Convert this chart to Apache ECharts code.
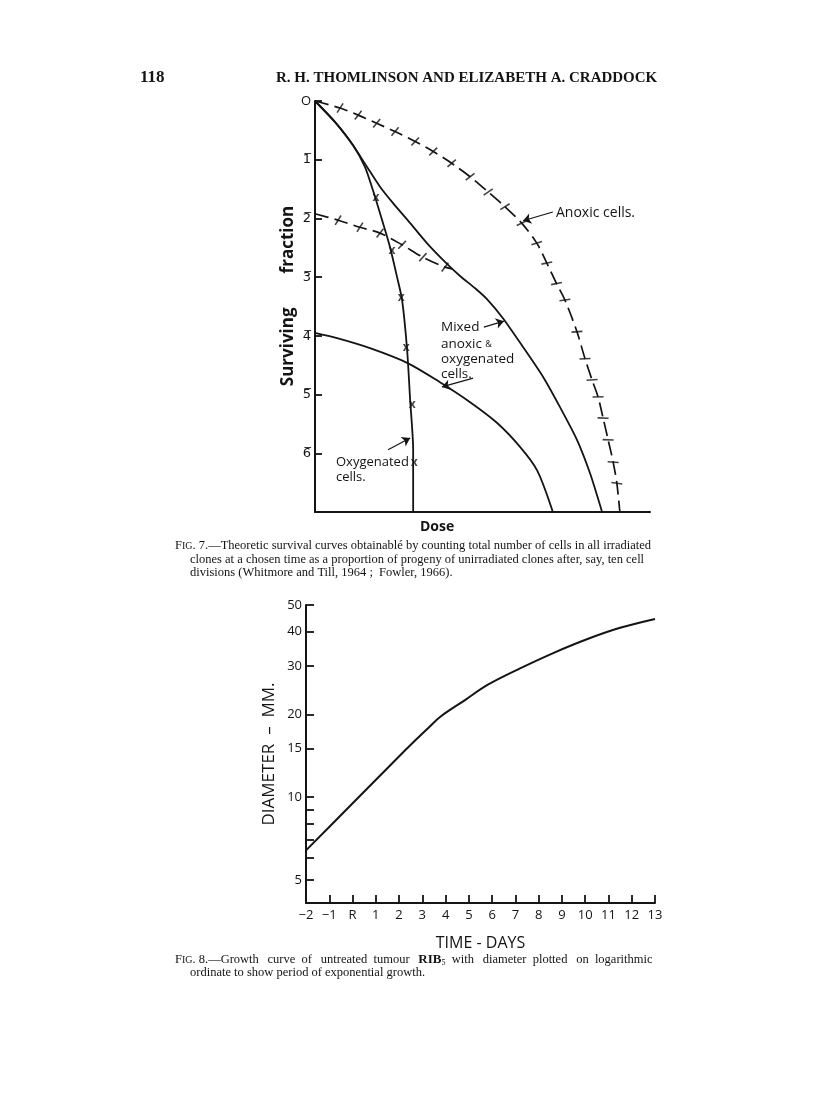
<!DOCTYPE html>
<html>
<head>
<meta charset="utf-8">
<title>Fig. 7 and Fig. 8</title>
<script src="https://cdn.jsdelivr.net/npm/echarts@6/dist/echarts.min.js"></script>
<style>
  html, body { margin: 0; padding: 0; background: #fff; }
  #page { width: 816px; height: 1118px; }
</style>
</head>
<body>
<div id="page"></div>
<script>
// ---- Fig. 7 : log10(surviving fraction) against dose (arbitrary dose units) ----
var anoxicDose = [0, 0.75, 1.29, 1.84, 2.39, 2.99, 3.53, 4.08, 4.63, 5.17, 5.67, 6.17, 6.62, 6.92, 7.21, 7.46, 7.82, 8.06, 8.27, 8.45, 8.60, 8.75, 8.90, 9.01, 9.10];
var anoxicLog  = [0, -0.12, -0.24, -0.38, -0.52, -0.69, -0.86, -1.06, -1.29, -1.55, -1.80, -2.08, -2.42, -2.76, -3.11, -3.39, -3.93, -4.39, -4.75, -5.04, -5.40, -5.77, -6.15, -6.51, -7.00];

// dashed asymptote of the mixed population (anoxic fraction 1/100)
var mixTailDose = [0, 0.69, 1.34, 1.94, 2.60, 3.22, 3.88, 4.09];
var mixTailLog  = [-1.92, -2.03, -2.15, -2.25, -2.45, -2.66, -2.83, -2.86];

var mixedDose = [0, 0.60, 1.13, 1.55, 1.94, 2.33, 2.84, 3.34, 3.88, 4.33, 4.78, 5.16, 5.61, 6.21, 6.81, 7.31, 7.82, 8.21, 8.57];
var mixedLog  = [0, -0.36, -0.75, -1.12, -1.46, -1.74, -2.08, -2.42, -2.74, -2.98, -3.19, -3.39, -3.70, -4.19, -4.70, -5.21, -5.77, -6.34, -7.00];

var oxyDose = [0, 0.60, 1.13, 1.49, 1.73, 2.03, 2.24, 2.45, 2.60, 2.75, 2.84, 2.93, 2.93];
var oxyLog  = [0, -0.36, -0.75, -1.12, -1.52, -2.08, -2.49, -3.00, -3.39, -4.24, -5.09, -5.94, -7.00];
var oxyMarkDose = [1.82, 2.30, 2.57, 2.72, 2.90, 2.96];
var oxyMarkLog  = [-1.67, -2.57, -3.36, -4.22, -5.18, -6.17];

var lowDose = [0, 0.66, 1.64, 2.75, 3.73, 4.63, 5.43, 6.12, 6.63, 7.10];
var lowLog  = [-3.95, -4.04, -4.21, -4.46, -4.79, -5.13, -5.48, -5.89, -6.29, -7.00];

var survLabels = ['O', '1\u0305', '2\u0305', '3\u0305', '4\u0305', '5\u0305', '6\u0305', ''];

// pointer arrows: [from, to] in (dose, log fraction)
var arrows7 = [
  [[7.10, -1.89], [6.21, -2.04]],
  [[5.04, -3.85], [5.64, -3.75]],
  [[4.72, -4.72], [3.79, -4.87]],
  [[2.18, -5.94], [2.84, -5.74]]
];

// ---- Fig. 8 : diameter (mm, log) against time (days) ----
var growthDays = [-2, -0.1, 1.9, 2.7, 3.3, 3.8, 4.85, 5.8, 7.2, 8.65, 10.1, 11.5, 13];
var growthMM   = [6.4, 9.3, 13.8, 16.1, 18.0, 19.7, 22.6, 25.6, 29.4, 33.5, 37.6, 41.3, 44.5];
var dayLabels  = ['\u22122', '\u22121', 'R', '1', '2', '3', '4', '5', '6', '7', '8', '9', '10', '11', '12', '13'];
var diamTicks  = [5, 6, 7, 8, 9, 10, 15, 20, 30, 40, 50];
var diamLabels = [5, 10, 15, 20, 30, 40, 50];

function pairs(xs, ys) {
  return xs.map(function (x, i) { return [x, ys[i]]; });
}

var ink = '#141414';
var sans = '"Open Sans", "DejaVu Sans", sans-serif';
var serif = '"Liberation Serif", "DejaVu Serif", serif';

function txt(x, y, s, font, extra) {
  var o = { type: 'text', x: x, y: y, style: { text: s, font: font, fill: ink, align: 'left', verticalAlign: 'middle' } };
  if (extra) { for (var k in extra) o.style[k] = extra[k]; }
  return o;
}

var chart = echarts.init(document.getElementById('page'));

var option = {
  backgroundColor: '#fff',
  animation: false,
  grid: [
    { left: 315, top: 101, width: 335, height: 411 },
    { left: 306, top: 605, width: 349, height: 298 }
  ],
  xAxis: [
    {
      gridIndex: 0, type: 'value', min: 0, max: 10, position: 'bottom',
      axisLine: { onZero: false, lineStyle: { color: ink, width: 2 } },
      axisTick: { show: false }, axisLabel: { show: false }, splitLine: { show: false }
    },
    {
      gridIndex: 1, type: 'value', min: -2, max: 13, interval: 1, position: 'bottom',
      axisLine: { onZero: false, lineStyle: { color: ink, width: 2 } },
      axisTick: { inside: true, length: 8, lineStyle: { color: ink, width: 1.8 } },
      axisLabel: {
        margin: 6, color: ink, fontFamily: sans, fontSize: 13,
        formatter: function (v) { return dayLabels[Math.round(v) + 2]; }
      },
      splitLine: { show: false },
      name: 'TIME - DAYS', nameLocation: 'middle', nameGap: 32,
      nameTextStyle: { color: ink, fontFamily: sans, fontSize: 16 }
    }
  ],
  yAxis: [
    {
      gridIndex: 0, type: 'value', min: -7, max: 0, interval: 1, position: 'left',
      axisLine: { onZero: false, lineStyle: { color: ink, width: 2 } },
      axisTick: { inside: true, length: 7, lineStyle: { color: ink, width: 1.8 } },
      axisLabel: {
        margin: 4, color: ink, fontFamily: sans, fontSize: 13,
        formatter: function (v) { return survLabels[Math.round(-v)]; }
      },
      splitLine: { show: false }
    },
    {
      gridIndex: 1, type: 'log', logBase: 10, min: 4.12, max: 50, position: 'left',
      axisLine: { onZero: false, lineStyle: { color: ink, width: 2 } },
      axisTick: { inside: true, length: 8, customValues: diamTicks, lineStyle: { color: ink, width: 1.8 } },
      axisLabel: {
        margin: 4, color: ink, fontFamily: sans, fontSize: 13, customValues: diamLabels,
        formatter: function (v) { return String(Math.round(v)); }
      },
      splitLine: { show: false },
      name: 'DIAMETER  \u2013  MM.', nameLocation: 'middle', nameGap: 28,
      nameTextStyle: { color: ink, fontFamily: sans, fontSize: 17 }
    }
  ],
  series: [
    {
      id: 'anoxic', type: 'line', xAxisIndex: 0, yAxisIndex: 0, smooth: 0.3,
      showSymbol: false, data: pairs(anoxicDose, anoxicLog),
      lineStyle: { color: ink, width: 1.7, type: [14, 6] }
    },
    {
      id: 'anoxicTicks', type: 'scatter', xAxisIndex: 0, yAxisIndex: 0,
      symbol: 'rect', symbolSize: [1.6, 11], itemStyle: { color: ink }, data: []
    },
    {
      id: 'mixTail', type: 'line', xAxisIndex: 0, yAxisIndex: 0, smooth: 0.3,
      showSymbol: false, data: pairs(mixTailDose, mixTailLog),
      lineStyle: { color: ink, width: 1.7, type: [14, 6] }
    },
    {
      id: 'mixTailTicks', type: 'scatter', xAxisIndex: 0, yAxisIndex: 0,
      symbol: 'rect', symbolSize: [1.6, 11], itemStyle: { color: ink }, data: []
    },
    {
      id: 'mixed', type: 'line', xAxisIndex: 0, yAxisIndex: 0, smooth: 0.25,
      showSymbol: false, data: pairs(mixedDose, mixedLog),
      lineStyle: { color: ink, width: 1.8 },
      markLine: {
        silent: true, symbol: ['none', 'arrow'], symbolSize: 8,
        lineStyle: { color: ink, width: 1.2, type: 'solid' },
        label: { show: false },
        data: arrows7.map(function (a) { return [{ coord: a[0] }, { coord: a[1] }]; })
      }
    },
    {
      id: 'oxy', type: 'line', xAxisIndex: 0, yAxisIndex: 0, smooth: 0.25,
      showSymbol: false, data: pairs(oxyDose, oxyLog),
      lineStyle: { color: ink, width: 1.8 }
    },
    {
      id: 'oxyMarks', type: 'scatter', xAxisIndex: 0, yAxisIndex: 0,
      symbolSize: 1, itemStyle: { color: 'rgba(0,0,0,0)' },
      label: { show: true, position: 'inside', formatter: 'x', color: ink, fontFamily: sans, fontSize: 12, fontWeight: 'bold', offset: [0, -1] },
      data: pairs(oxyMarkDose, oxyMarkLog)
    },
    {
      id: 'low', type: 'line', xAxisIndex: 0, yAxisIndex: 0, smooth: 0.3,
      showSymbol: false, data: pairs(lowDose, lowLog),
      lineStyle: { color: ink, width: 1.8 }
    },
    {
      id: 'growth', type: 'line', xAxisIndex: 1, yAxisIndex: 1, smooth: 0.35,
      showSymbol: false, data: pairs(growthDays, growthMM),
      lineStyle: { color: ink, width: 2 }
    }
  ],
  graphic: [
    txt(140, 78, '118', 'bold 17px ' + serif),
    txt(276, 78, 'R. H. THOMLINSON AND ELIZABETH A. CRADDOCK', 'bold 15px ' + serif),
    { type: 'text', x: 288, y: 296, rotation: Math.PI / 2,
      style: { text: 'Surviving\u2003\u2003fraction', font: 'bold 17px ' + sans, fill: ink, align: 'center', verticalAlign: 'middle' } },
    txt(556, 213, 'Anoxic cells.', '14px ' + sans),
    txt(441, 327, 'Mixed', '13.5px ' + sans),
    { type: 'text', x: 441, y: 344, style: { text: 'anoxic {s|&}', font: '13.5px ' + sans, fill: ink, verticalAlign: 'middle', rich: { s: { fontSize: 9, fontFamily: sans, fill: ink } } } },
    txt(441, 359, 'oxygenated', '13.5px ' + sans),
    txt(441, 374, 'cells.', '13.5px ' + sans),
    txt(336, 462, 'Oxygenated', '13px ' + sans),
    txt(336, 477, 'cells.', '13px ' + sans),
    txt(420, 527, 'Dose', 'bold 14px ' + sans),
    { type: 'text', x: 175, y: 546, style: { text: 'F{s|IG}. 7.\u2014Theoretic survival curves obtainabl\u00e9 by counting total number of cells in all irradiated', font: '12.5px ' + serif, fill: ink, verticalAlign: 'middle', rich: { s: { fontSize: 10, fontFamily: serif, fill: ink } } } },
    txt(190, 560, 'clones at a chosen time as a proportion of progeny of unirradiated clones after, say, ten cell', '12.5px ' + serif),
    txt(190, 573, 'divisions (Whitmore and Till, 1964 ;  Fowler, 1966).', '12.5px ' + serif),
    { type: 'text', x: 175, y: 960, style: { text: 'F{s|IG}. 8.\u2014Growth \u2009 curve  of \u2009 untreated  tumour \u2009 {b|RIB}{sub|5}  with \u2009 diameter  plotted \u2009 on  logarithmic', font: '12.5px ' + serif, fill: ink, verticalAlign: 'middle', rich: { s: { fontSize: 10, fontFamily: serif, fill: ink }, b: { fontSize: 13, fontWeight: 'bold', fontFamily: serif, fill: ink }, sub: { fontSize: 8, fontFamily: serif, fill: ink, verticalAlign: 'bottom', padding: [4, 0, 0, 0] } } } },
    txt(190, 973, 'ordinate to show period of exponential growth.', '12.5px ' + serif)
  ]
};

chart.setOption(option);

// cross-strokes along the dashed curves, set across the local direction of the curve
function tickItems(xs, ys) {
  var px = xs.map(function (x, i) { return chart.convertToPixel({ xAxisIndex: 0, yAxisIndex: 0 }, [x, ys[i]]); });
  var out = [];
  for (var i = 1; i < xs.length - 1; i++) {
    var dx = px[i + 1][0] - px[i - 1][0];
    var dy = px[i + 1][1] - px[i - 1][1];
    var ang = Math.atan2(-dy, dx) * 180 / Math.PI - 15;
    out.push({ value: [xs[i], ys[i]], symbolRotate: ang });
  }
  return out;
}

chart.setOption({
  series: [
    { id: 'anoxicTicks', data: tickItems(anoxicDose, anoxicLog) },
    { id: 'mixTailTicks', data: tickItems(mixTailDose, mixTailLog) }
  ]
});
</script>
</body>
</html>
